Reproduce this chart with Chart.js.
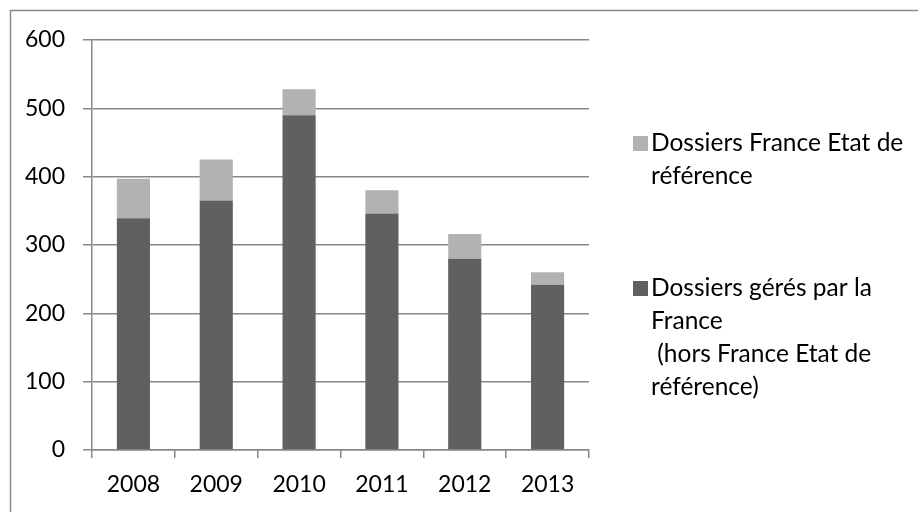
<!DOCTYPE html>
<html>
<head>
<meta charset="utf-8">
<script src="https://cdn.jsdelivr.net/npm/chart.js@4/dist/chart.umd.min.js"></script>
<style>
  html, body { margin: 0; padding: 0; background: #fff; }
  #wrap { position: relative; width: 918px; height: 512px; }
  canvas { display: block; }
</style>
</head>
<body>
<div id="wrap"><canvas id="c" width="918" height="512"></canvas></div>
<script>
const categories = ['2008', '2009', '2010', '2011', '2012', '2013'];
const geresParLaFrance = [339, 365, 490, 346, 280, 242];
const franceEtatDeReference = [58, 60, 38, 34, 36, 18];
const yTicks = [0, 100, 200, 300, 400, 500, 600];
const seriesNames = [
  'Dossiers gérés par la France (hors France Etat de référence)',
  'Dossiers France Etat de référence'
];
const legendLinesRef = ['Dossiers France Etat de', 'référence'];
const legendLinesGeres = ['Dossiers gérés par la', 'France', ' (hors France Etat de', 'référence)'];

const DARK = '#606060';
const LIGHT = '#b2b2b2';
const LINE = '#878787';
const FONT = 'Lato';

const framePlugin = {
  id: 'frame',
  beforeDraw(chart) {
    const ctx = chart.ctx;
    ctx.save();
    ctx.fillStyle = '#fff';
    ctx.fillRect(0, 0, chart.width, chart.height);
    ctx.strokeStyle = '#8a8a8a';
    ctx.lineWidth = 1.5;
    ctx.beginPath();
    ctx.moveTo(10.5, chart.height);
    ctx.lineTo(10.5, 10.5);
    ctx.lineTo(chart.width, 10.5);
    ctx.stroke();
    ctx.restore();
  }
};

const legendPlugin = {
  id: 'customLegend',
  afterDraw(chart) {
    const ctx = chart.ctx;
    const ds = chart.data.datasets;
    const groups = [
      { color: ds[1].backgroundColor, lines: legendLinesRef, y: 143 },
      { color: ds[0].backgroundColor, lines: legendLinesGeres, y: 288 }
    ];
    const lh = 33;
    ctx.save();
    ctx.font = '24.5px ' + FONT;
    ctx.textBaseline = 'middle';
    ctx.textAlign = 'left';
    ctx.fillStyle = '#000';
    groups.forEach(g => {
      ctx.fillStyle = g.color;
      ctx.fillRect(633, g.y - 7, 15, 15);
      ctx.fillStyle = '#000';
      g.lines.forEach((t, i) => ctx.fillText(t, 651, g.y + i * lh));
    });
    ctx.restore();
  }
};

new Chart(document.getElementById('c'), {
  type: 'bar',
  data: {
    labels: categories,
    datasets: [
      { label: seriesNames[0], data: geresParLaFrance, backgroundColor: DARK,
        barPercentage: 0.4, categoryPercentage: 1.0 },
      { label: seriesNames[1], data: franceEtatDeReference, backgroundColor: LIGHT,
        barPercentage: 0.4, categoryPercentage: 1.0 }
    ]
  },
  options: {
    responsive: false,
    animation: false,
    layout: { padding: { left: 0, top: 40, right: 329, bottom: 0 } },
    plugins: { legend: { display: false }, tooltip: { enabled: false } },
    scales: {
      x: {
        stacked: true,
        offset: true,
        afterFit(s) { s.height = 62; },
        grid: { offset: true, drawOnChartArea: false, color: LINE, lineWidth: 1.5, tickLength: 8 },
        border: { color: LINE, width: 1.5 },
        ticks: { color: '#000', font: { family: FONT, size: 23 }, padding: 13, maxRotation: 0 }
      },
      y: {
        stacked: true,
        min: 0,
        max: 600,
        afterFit(s) { s.width = 92; },
        afterBuildTicks(s) { s.ticks = yTicks.map(v => ({ value: v })); },
        grid: { color: LINE, lineWidth: 1.5, tickLength: 9 },
        border: { color: LINE, width: 1.5 },
        ticks: { color: '#000', font: { family: FONT, size: 23 }, padding: 18 }
      }
    }
  },
  plugins: [framePlugin, legendPlugin]
});
</script>
</body>
</html>
